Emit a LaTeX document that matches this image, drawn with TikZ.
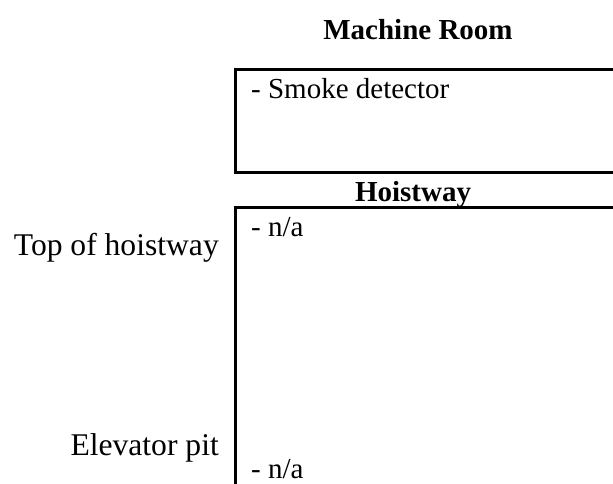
\documentclass[tikz,border=0pt]{standalone}
\usepackage{fontspec}
\setmainfont{Liberation Serif}
\tikzset{
  wall/.style={line width=3pt},
  boxtext/.style={anchor=base west, inner sep=0pt, font=\fontsize{29}{33}\selectfont},
  sidelabel/.style={anchor=base east, inner sep=0pt, font=\fontsize{31.6}{36}\selectfont},
  heading/.style={anchor=base, inner sep=0pt, font=\fontsize{29}{33}\selectfont\bfseries},
}
\begin{document}
\begin{tikzpicture}[x=1pt,y=1pt]
\useasboundingbox (0,0) rectangle (613,-483);
\clip (0,0) rectangle (613,-483);
% corners
\coordinate (mtr) at (625,-69);
\coordinate (mtl) at (235,-69);
\coordinate (mbl) at (235,-172);
\coordinate (mbr) at (625,-172);
\coordinate (htr) at (625,-207);
\coordinate (htl) at (235,-207);
\coordinate (hbl) at (235,-495);
\draw[wall] (mtr) -- (mtl) -- (mbl) -- (mbr);
\draw[wall] (htr) -- (htl) -- (hbl);
% texts
\node[heading] (mroom) at (418,-39) {Machine Room};
\node[boxtext] (smoke) at (251,-98) {- Smoke detector};
\node[heading] (hoist) at (413,-201) {Hoistway};
\node[boxtext] (na1) at (251,-236) {- n/a};
\node[sidelabel] (top) at (219,-255) {Top of hoistway};
\node[sidelabel] (pit) at (219,-455) {Elevator pit};
\node[boxtext] (na2) at (251,-478) {- n/a};
\end{tikzpicture}
\end{document}
